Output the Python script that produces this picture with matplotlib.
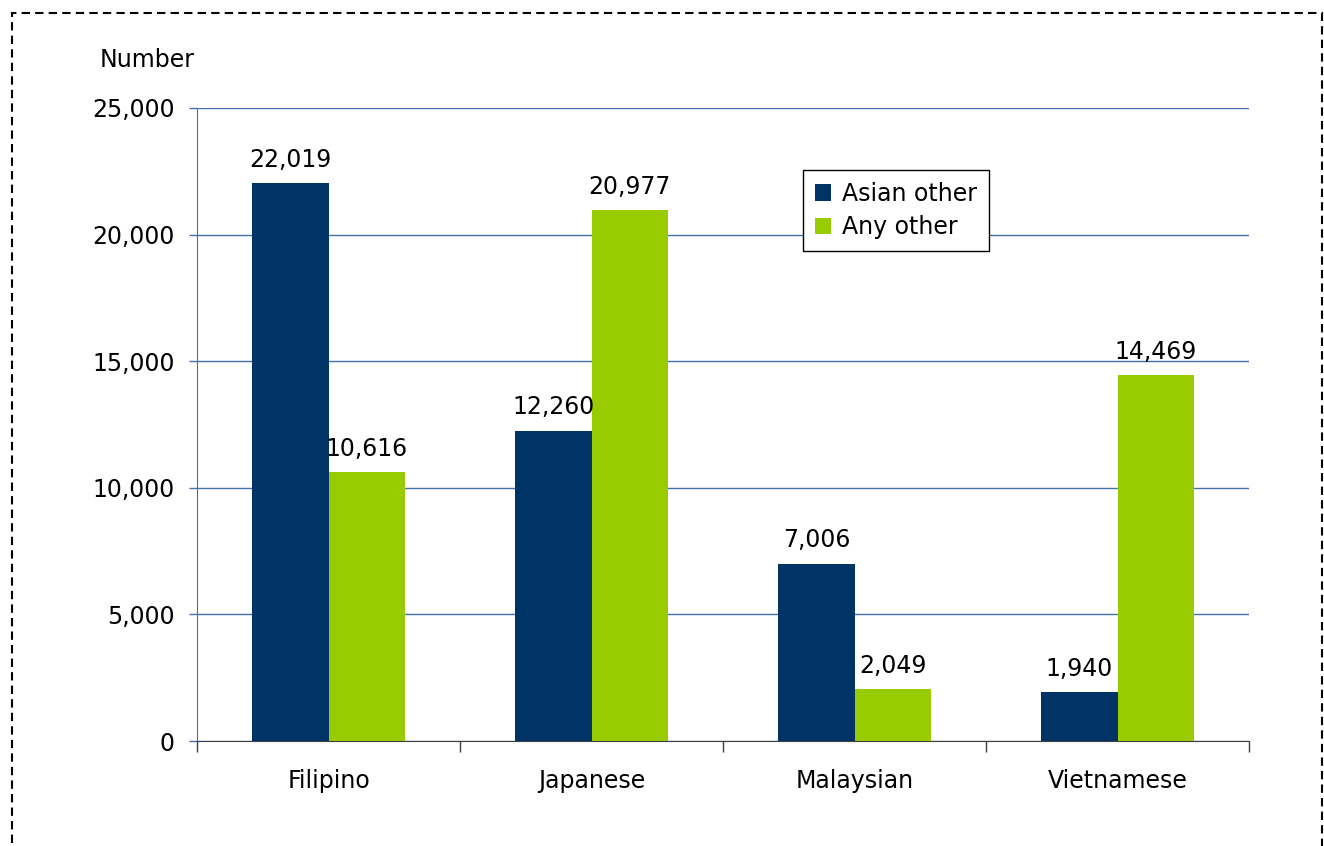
import matplotlib.pyplot as plt
import numpy as np
from matplotlib.patches import Rectangle

# data
categories = ['Filipino', 'Japanese', 'Malaysian', 'Vietnamese']
asian_other = [22019, 12260, 7006, 1940]
any_other = [10616, 20977, 2049, 14469]
series_names = ['Asian other', 'Any other']
yticks = [0, 5000, 10000, 15000, 20000, 25000]

navy = '#003366'
green = '#99CC00'
grid_blue = '#4472A8'
fs = 17

plt.rcParams['font.family'] = ['DejaVu Sans']

fig = plt.figure(figsize=(13.24, 8.46), dpi=100)
ax = fig.add_axes([197 / 1324, 1 - 741 / 846, 1052 / 1324, 633 / 846])

x = np.arange(len(categories))
w = 0.29
b1 = ax.bar(x - w / 2, asian_other, w, color=navy, label=series_names[0], zorder=3)
b2 = ax.bar(x + w / 2, any_other, w, color=green, label=series_names[1], zorder=3)

for bars in (b1, b2):
    for rect in bars:
        h = rect.get_height()
        ax.annotate(f'{h:,.0f}', (rect.get_x() + rect.get_width() / 2, h),
                    xytext=(0, 8), textcoords='offset points',
                    ha='center', va='bottom', fontsize=fs, color='black', zorder=4)

ax.set_xlim(-0.5, len(categories) - 0.5)
ax.set_ylim(0, 25000)
ax.set_yticks(yticks)
ax.set_yticklabels([f'{v:,}' for v in yticks], fontsize=fs)
ax.yaxis.grid(True, color=grid_blue, linewidth=1.0, zorder=0)

# category labels centred, ticks at the boundaries
ax.set_xticks(x)
ax.set_xticklabels(categories, fontsize=fs)
ax.tick_params(axis='x', length=0, pad=20)
ax.set_xticks(np.arange(len(categories) + 1) - 0.5, minor=True)
ax.tick_params(axis='x', which='minor', length=8, width=1, color='#404040', direction='out')
ax.tick_params(axis='y', length=6, width=1, color=grid_blue, pad=10)

for side in ('top', 'right'):
    ax.spines[side].set_visible(False)
ax.spines['left'].set_color(grid_blue)
ax.spines['bottom'].set_color('#404040')
ax.spines['bottom'].set_zorder(5)

leg = ax.legend(loc='upper left', bbox_to_anchor=(0.576, 0.902), fontsize=fs,
                frameon=True, fancybox=False, edgecolor='black', framealpha=1,
                handlelength=0.7, handleheight=0.7, handletextpad=0.45,
                borderpad=0.5, labelspacing=0.4, borderaxespad=0)
leg.get_frame().set_linewidth(1.0)

fig.text(100 / 1324, 1 - 60 / 846, 'Number', fontsize=fs, ha='left', va='center')

# dashed frame round the whole chart
fig.patches.append(Rectangle((12 / 1324, -0.1), 1310 / 1324, 1.1 - 13 / 846,
                             transform=fig.transFigure, fill=False,
                             edgecolor='black', linestyle=(0, (4, 2.5)), linewidth=1.5))

fig.savefig('out.png', dpi=100)
